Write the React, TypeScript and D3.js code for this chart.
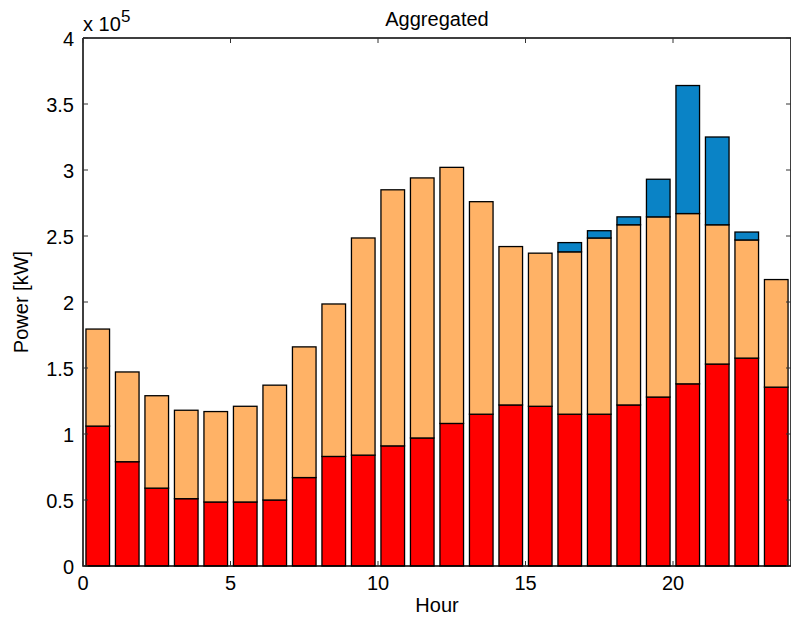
import React from 'react';
import * as d3 from 'd3';

// values in units of 1e5 kW
const hours = d3.range(24);
const baseLoad = [1.06, 0.79, 0.59, 0.51, 0.485, 0.485, 0.50, 0.67, 0.83, 0.84, 0.91, 0.97, 1.08, 1.15, 1.22, 1.21, 1.15, 1.15, 1.22, 1.28, 1.38, 1.53, 1.575, 1.355];
const midTotal = [1.795, 1.47, 1.29, 1.18, 1.17, 1.21, 1.37, 1.66, 1.985, 2.485, 2.85, 2.94, 3.02, 2.76, 2.42, 2.37, 2.38, 2.485, 2.585, 2.645, 2.67, 2.585, 2.47, 2.17];
const topTotal = [1.795, 1.47, 1.29, 1.18, 1.17, 1.21, 1.37, 1.66, 1.985, 2.485, 2.85, 2.94, 3.02, 2.76, 2.42, 2.37, 2.45, 2.54, 2.645, 2.93, 3.64, 3.25, 2.53, 2.17];
const yTicks = [0, 0.5, 1, 1.5, 2, 2.5, 3, 3.5, 4];
const xTicks = [0, 5, 10, 15, 20];
const colors = ['#ff0000', '#ffb266', '#0a83c6'];

const width = 791;
const height = 618;
const left = 83, right = 791, top = 38, bottom = 566;

const x = d3.scaleLinear().domain([0, 24]).range([left, right]);
const y = d3.scaleLinear().domain([0, 4]).range([bottom, top]);

const font = 'Liberation Sans, Arial, sans-serif';

const App = () => {
  // stacked segments
  const segments: { h: number; y0: number; y1: number; c: string }[] = [];
  hours.forEach((h, i) => {
    segments.push({ h, y0: 0, y1: baseLoad[i], c: colors[0] });
    segments.push({ h, y0: baseLoad[i], y1: midTotal[i], c: colors[1] });
    if (topTotal[i] > midTotal[i]) segments.push({ h, y0: midTotal[i], y1: topTotal[i], c: colors[2] });
  });
  const bw = x(0.8) - x(0);

  return (
    <div style={{ position: 'absolute', left: 0, top: 0 }}>
      <svg width={width} height={height} style={{ display: 'block', background: '#fff' }}>
        {segments.map((s, i) => (
          <rect key={i}
            x={x(s.h + 0.5) - bw / 2}
            y={y(s.y1)}
            width={bw}
            height={y(s.y0) - y(s.y1)}
            fill={s.c}
            stroke="#000"
            strokeWidth={1.3} />
        ))}
        {/* axes box */}
        <path d={`M${left},${top}H${right}M${left},${top}V${bottom}H${right}M${right},${top}V${bottom}`}
          fill="none" stroke="#000" strokeWidth={1.5} />
        {yTicks.map(t => (
          <g key={t}>
            <line x1={left} x2={left + 5} y1={y(t)} y2={y(t)} stroke="#333" />
            <line x1={right - 5} x2={right} y1={y(t)} y2={y(t)} stroke="#333" />
            <text x={left - 9} y={y(t)} dy="0.38em" textAnchor="end" fontSize={20} fontFamily={font}>{t}</text>
          </g>
        ))}
        {xTicks.map(t => (
          <g key={t}>
            <line x1={x(t)} x2={x(t)} y1={bottom} y2={bottom - 5} stroke="#333" />
            <line x1={x(t)} x2={x(t)} y1={top} y2={top + 5} stroke="#333" />
            <text x={x(t)} y={590} textAnchor="middle" fontSize={20} fontFamily={font}>{t}</text>
          </g>
        ))}
        <text x={83} y={31} fontSize={20} fontFamily={font}>x 10</text>
        <text x={121} y={22} fontSize={17} fontFamily={font}>5</text>
        <text x={437} y={26} textAnchor="middle" fontSize={20} fontFamily={font}>Aggregated</text>
        <text x={437} y={612} textAnchor="middle" fontSize={20} fontFamily={font}>Hour</text>
        <text transform={`translate(28,${(top + bottom) / 2}) rotate(-90)`} textAnchor="middle" fontSize={20} fontFamily={font}>Power [kW]</text>
      </svg>
    </div>
  );
};

export default App;
